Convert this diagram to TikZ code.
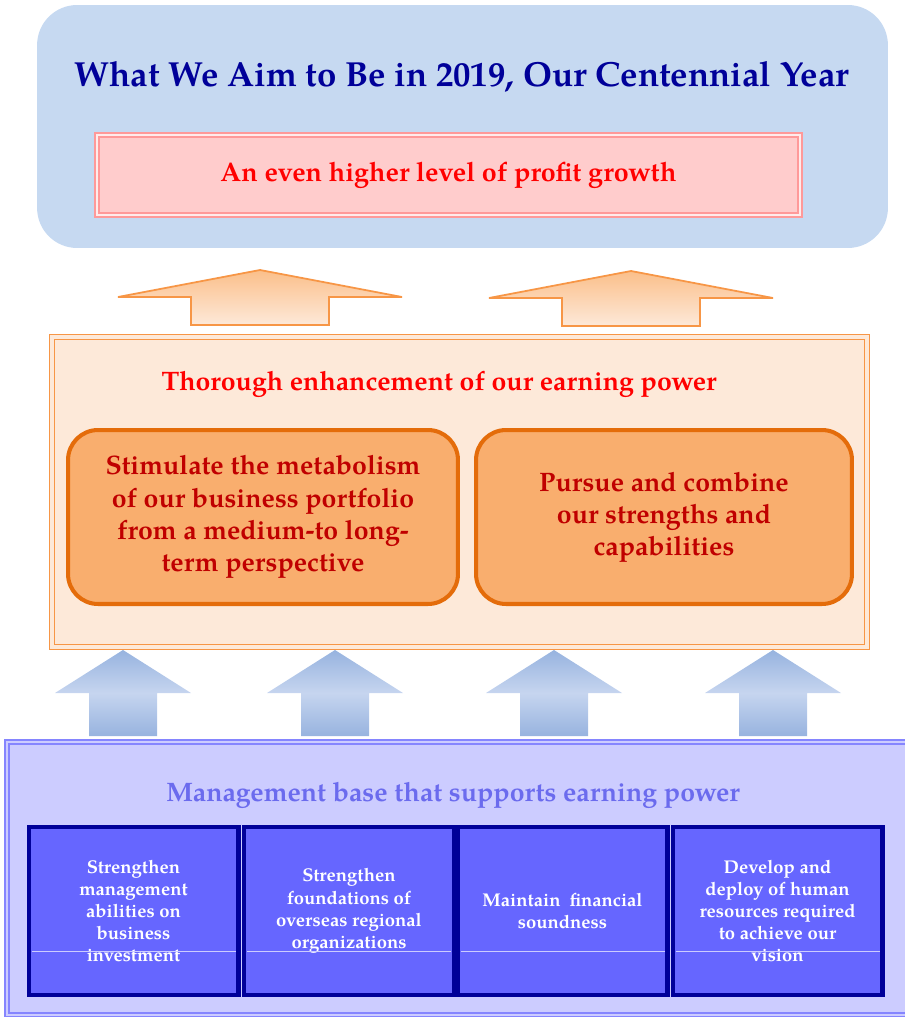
\documentclass[tikz,border=0pt]{standalone}
\usepackage{fontspec}
\setmainfont{texgyrepagella}[Extension=.otf, UprightFont=*-regular, BoldFont=*-bold, ItalicFont=*-italic, BoldItalicFont=*-bolditalic]
\usetikzlibrary{positioning}
\definecolor{GoalFill}{HTML}{C6D9F1}
\definecolor{GoalText}{HTML}{000099}
\definecolor{ProfitFill}{HTML}{FFCCCC}
\definecolor{ProfitLine}{HTML}{FF9999}
\definecolor{ProfitText}{HTML}{FF0000}
\definecolor{EarnFill}{HTML}{FDE9D9}
\definecolor{EarnLine}{HTML}{F79646}
\definecolor{EarnBoxFill}{HTML}{F9AE6E}
\definecolor{EarnBoxLine}{HTML}{E46C0A}
\definecolor{EarnBoxText}{HTML}{C00000}
\definecolor{ArrowTop}{HTML}{FBBF8A}
\definecolor{ArrowBlueA}{HTML}{97B3DF}
\definecolor{ArrowBlueB}{HTML}{C6D5EF}
\definecolor{BaseFill}{HTML}{CCCCFF}
\definecolor{BaseLine}{HTML}{8585FF}
\definecolor{BaseText}{HTML}{6B6BEE}
\definecolor{BaseBoxFill}{HTML}{6666FF}
\definecolor{BaseBoxLine}{HTML}{000099}

\begin{document}
\begin{tikzpicture}[x=0.02cm, y=-0.02cm,
        goal/.style={fill=GoalFill, rounded corners=0.8cm, minimum width=17.02cm, minimum height=4.86cm},
        profit/.style={draw=ProfitLine, double=ProfitFill!40, double distance=1.6pt, line width=0.7pt, fill=ProfitFill, minimum width=14.06cm, minimum height=1.6cm, text=ProfitText, font=\bfseries\fontsize{15.3}{18}\selectfont},
        earn/.style={draw=EarnLine, double=EarnFill, double distance=2pt, line width=0.9pt, fill=EarnFill, minimum width=16.3cm, minimum height=6.2cm},
        earnbox/.style={draw=EarnBoxLine, line width=2.3pt, fill=EarnBoxFill, rounded corners=0.6cm, minimum height=3.48cm, text=EarnBoxText, align=center, font=\bfseries\fontsize{15.2}{18.3}\selectfont},
        base/.style={draw=BaseLine, double=BaseFill, double distance=1.6pt, line width=0.8pt, fill=BaseFill, minimum width=18.36cm, minimum height=5.46cm},
        basebox/.style={draw=BaseBoxLine, line width=2.3pt, fill=BaseBoxFill, minimum width=4.2cm, minimum height=3.36cm, text=white, align=center, font=\bfseries\fontsize{10.5}{12.6}\selectfont},
        heading/.style={font=\bfseries\fontsize{15.2}{18}\selectfont},
        divline/.style={draw=BaseFill, line width=0.4pt},
        orangeup/.pic={\shadedraw[draw=EarnLine, line width=1pt, top color=ArrowTop, bottom color=EarnFill]
            (0,0) -- (142,27) -- (69,27) -- (69,55) -- (-69,55) -- (-69,27) -- (-142,27) -- cycle;},
        blueup/.pic={\shade[top color=ArrowBlueA, bottom color=ArrowBlueA, middle color=ArrowBlueB]
            (0,0) -- (68,43) -- (34,43) -- (34,86) -- (-34,86) -- (-34,43) -- (-68,43) -- cycle;}
    ]
        \useasboundingbox (0,0) rectangle (905,1017);

        % Goal for the centennial year
        \node[goal] (goal) at (462.5,126.5) {};
        \node[heading, text=GoalText, font=\bfseries\fontsize{19.8}{23}\selectfont] (goaltitle) at (462,77) {What We Aim to Be in 2019, Our Centennial Year};
        \node[profit] (profit) at (448.5,175) {An even higher level of profit growth};

        % Arrows up to the goal
        \pic at (260,270) {orangeup};
        \pic at (631,271) {orangeup};

        % Earning power
        \node[earn] (earn) at (459.5,492) {};
        \node[heading, text=ProfitText] (earntitle) at (439,384) {Thorough enhancement of our earning power};
        \node[earnbox, minimum width=7.8cm] (metabolism) at (263,517) {Stimulate the metabolism\\of our business portfolio\\from a medium-to long-\\term perspective};
        \node[earnbox, minimum width=7.52cm] (strengths) at (664,517) {Pursue and combine\\our strengths and\\capabilities};

        % Arrows up from the base
        \pic at (123,650) {blueup};
        \pic at (335,650) {blueup};
        \pic at (554,650) {blueup};
        \pic at (773,650) {blueup};

        % Management base
        \node[base] (base) at (466,878.5) {};
        \node[heading, text=BaseText] (basetitle) at (453,795) {Management base that supports earning power};
        \node[basebox] (invest) at (133.5,911) {Strengthen\\management\\abilities on\\business\\investment};
        \node[basebox] (overseas) at (349,911) {Strengthen\\foundations of\\overseas regional\\organizations};
        \node[basebox] (finance) at (562.5,911) {Maintain~~financial\\soundness};
        \node[basebox] (people) at (777.5,911) {Develop and\\deploy of human\\resources required\\to achieve our\\vision};

        \draw[divline] ([xshift=0.1cm,yshift=-0.8cm]invest.west) -- ([xshift=-0.1cm,yshift=-0.8cm]invest.east);
        \draw[divline] ([xshift=0.1cm,yshift=-0.8cm]overseas.west) -- ([xshift=-0.1cm,yshift=-0.8cm]overseas.east);
        \draw[divline] ([xshift=0.1cm,yshift=-0.8cm]finance.west) -- ([xshift=-0.1cm,yshift=-0.8cm]finance.east);
        \draw[divline] ([xshift=0.1cm,yshift=-0.8cm]people.west) -- ([xshift=-0.1cm,yshift=-0.8cm]people.east);
\end{tikzpicture}
\end{document}
